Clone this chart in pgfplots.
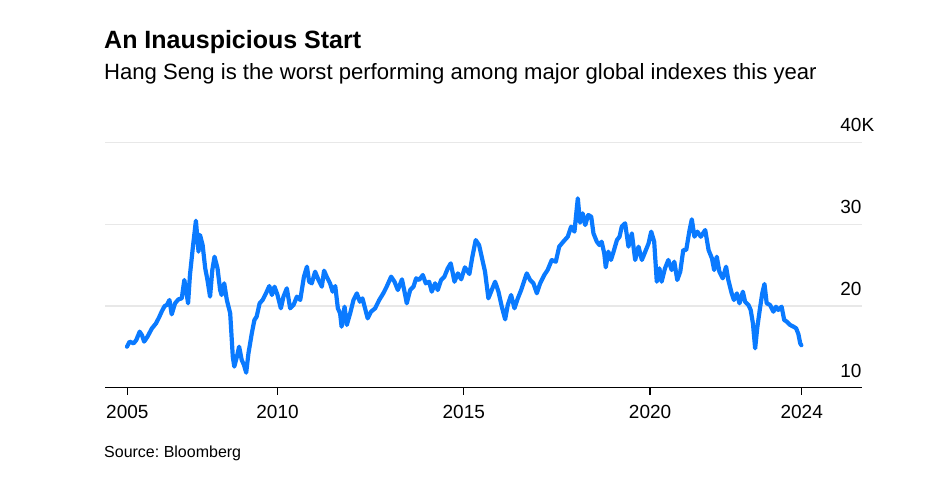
\documentclass[border=0pt]{standalone}
\usepackage{pgfplots}
\pgfplotsset{compat=1.18}
\usepackage{fontspec}
\setmainfont{Liberation Sans}
\frenchspacing
\definecolor{hsblue}{RGB}{10,122,255}
\definecolor{gridgray}{RGB}{232,232,232}
\begin{document}
\begin{tikzpicture}
\path[use as bounding box] (0pt,0pt) rectangle (933pt,477pt);
\node[anchor=base west, inner sep=0pt, font=\fontsize{25}{29}\selectfont\bfseries] at (104pt,428.7pt) {An Inauspicious Start};
\node[anchor=base west, inner sep=0pt, font=\fontsize{22.1}{26}\selectfont] at (104pt,397.7pt) {Hang Seng is the worst performing among major global indexes this year};
\node[anchor=base west, inner sep=0pt, font=\fontsize{16}{19}\selectfont] at (104pt,20pt) {Source: Bloomberg};
\begin{axis}[
  at={(105pt,89.3pt)}, anchor=south west,
  scale only axis, width=756.7pt, height=245pt,
  xmin=2005.37, xmax=2025.68, ymin=10, ymax=40,
  axis x line*=bottom, axis y line*=right,
  y axis line style={draw=none},
  x axis line style={line width=1.5pt, black, -},
  xtick={2005.97,2010,2015,2020,2024.07},
  xticklabels={2005,2010,2015,2020,2024},
  ytick={10,20,30,40},
  yticklabels={10,20,30,40\rlap{K}},
  ymajorgrids, grid style={gridgray, line width=1.5pt},
  xtick align=outside, ytick align=inside,
  major tick length=7pt,
  xtick style={black, line width=1.3pt},
  ytick style={draw=none},
  ticklabel style={font=\fontsize{19}{22}\selectfont, inner sep=0pt},
  yticklabel style={anchor=base east, yshift=10.7pt},
  xticklabel style={anchor=base, yshift=-24pt},
]
% Hang Seng index, thousands of points
\addplot[hsblue, line width=4.2pt, line join=round, line cap=round] coordinates {
(2005.96,15.02) (2006.03,15.64) (2006.14,15.43) (2006.21,15.84) (2006.30,16.86)
(2006.36,16.45) (2006.42,15.64) (2006.51,16.25) (2006.63,17.27) (2006.74,17.88)
(2006.83,18.70) (2006.89,19.31) (2006.97,20.00) (2007.03,20.13) (2007.10,20.74)
(2007.16,18.98) (2007.25,20.33) (2007.34,20.82) (2007.43,20.94) (2007.50,23.19)
(2007.56,21.55) (2007.60,20.33) (2007.65,23.80) (2007.73,27.27) (2007.81,30.45)
(2007.88,26.66) (2007.92,28.70) (2007.99,27.47) (2008.06,24.62) (2008.12,23.19)
(2008.19,21.15) (2008.25,24.41) (2008.31,26.04) (2008.39,24.62) (2008.46,21.96)
(2008.50,21.35) (2008.57,22.78) (2008.64,20.74) (2008.73,19.11) (2008.80,13.80)
(2008.84,12.58) (2008.91,13.80) (2008.97,15.02) (2009.04,13.39) (2009.10,12.78)
(2009.16,11.84) (2009.22,14.21) (2009.31,16.66) (2009.38,18.29) (2009.44,18.70)
(2009.52,20.33) (2009.60,20.74) (2009.69,21.55) (2009.78,22.45) (2009.85,21.35)
(2009.92,22.37) (2010.00,21.35) (2010.09,19.72) (2010.16,21.15) (2010.25,22.17)
(2010.34,19.72) (2010.43,20.13) (2010.52,21.15) (2010.61,20.74) (2010.71,23.60)
(2010.79,24.82) (2010.85,22.98) (2010.92,22.78) (2011.01,24.21) (2011.10,23.19)
(2011.19,22.37) (2011.25,24.33) (2011.32,23.60) (2011.41,22.78) (2011.48,21.76)
(2011.55,22.45) (2011.62,19.72) (2011.68,19.11) (2011.72,17.47) (2011.80,19.92)
(2011.86,17.68) (2011.95,19.11) (2012.04,20.74) (2012.13,21.55) (2012.21,20.53)
(2012.28,20.94) (2012.35,19.72) (2012.42,18.49) (2012.51,19.31) (2012.62,19.72)
(2012.73,20.74) (2012.84,21.56) (2012.93,22.37) (2013.05,23.60) (2013.14,22.98)
(2013.23,21.96) (2013.34,23.27) (2013.40,21.96) (2013.47,20.33) (2013.56,21.96)
(2013.65,22.37) (2013.72,23.39) (2013.80,23.19) (2013.90,23.80) (2013.98,22.78)
(2014.07,22.98) (2014.14,21.76) (2014.23,22.78) (2014.30,21.96) (2014.39,23.19)
(2014.48,23.60) (2014.57,24.62) (2014.65,25.23) (2014.75,22.98) (2014.84,24.00)
(2014.93,23.27) (2015.03,24.74) (2015.15,23.92) (2015.23,26.04) (2015.32,28.08)
(2015.41,27.47) (2015.50,25.63) (2015.57,24.21) (2015.66,20.94) (2015.75,21.96)
(2015.84,22.98) (2015.93,21.76) (2016.02,19.92) (2016.11,18.37) (2016.18,20.13)
(2016.27,21.35) (2016.36,19.72) (2016.45,20.94) (2016.54,21.96) (2016.63,23.19)
(2016.69,24.00) (2016.78,23.19) (2016.87,22.78) (2016.96,21.56) (2017.05,22.78)
(2017.16,23.80) (2017.25,24.41) (2017.36,25.63) (2017.47,25.43) (2017.56,27.27)
(2017.67,27.88) (2017.79,28.49) (2017.88,29.72) (2017.97,29.11) (2018.06,33.19)
(2018.12,30.20) (2018.19,31.35) (2018.26,29.92) (2018.34,31.15) (2018.42,30.94)
(2018.48,28.90) (2018.57,27.88) (2018.64,27.47) (2018.70,27.88) (2018.77,26.45)
(2018.81,24.74) (2018.88,26.66) (2018.95,25.64) (2019.02,26.66) (2019.11,28.08)
(2019.18,28.49) (2019.24,29.72) (2019.33,30.13) (2019.42,27.27) (2019.51,28.90)
(2019.60,25.64) (2019.69,27.27) (2019.78,25.64) (2019.87,26.66) (2019.96,27.68)
(2020.03,29.11) (2020.11,27.88) (2020.18,22.98) (2020.25,24.62) (2020.31,22.98)
(2020.40,24.62) (2020.49,25.64) (2020.58,24.41) (2020.65,25.43) (2020.73,23.19)
(2020.81,24.21) (2020.89,26.86) (2020.97,26.86) (2021.06,29.31) (2021.12,30.62)
(2021.19,28.49) (2021.27,29.11) (2021.36,28.49) (2021.48,29.31) (2021.57,26.86)
(2021.66,25.84) (2021.72,24.41) (2021.79,26.04) (2021.86,24.21) (2021.95,23.39)
(2022.04,24.82) (2022.10,23.19) (2022.19,21.55) (2022.25,20.74) (2022.33,21.55)
(2022.40,20.33) (2022.49,21.76) (2022.55,20.53) (2022.64,20.13) (2022.70,19.52)
(2022.76,17.88) (2022.82,14.82) (2022.88,17.47) (2022.95,19.72) (2023.01,21.55)
(2023.07,22.70) (2023.13,20.33) (2023.22,20.13) (2023.31,19.31) (2023.38,19.92)
(2023.44,19.52) (2023.53,19.92) (2023.60,18.29) (2023.67,18.09) (2023.76,17.68)
(2023.85,17.47) (2023.92,17.27) (2023.98,16.57) (2024.03,15.43) (2024.06,15.20)
};
\end{axis}
\end{tikzpicture}
\end{document}
